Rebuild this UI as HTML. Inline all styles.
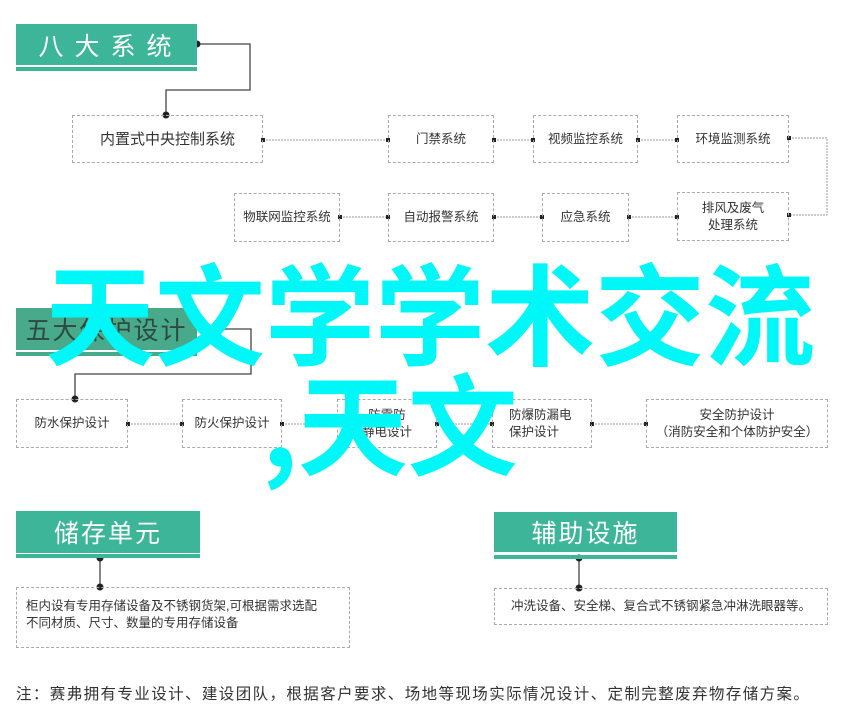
<!DOCTYPE html>
<html><head><meta charset="utf-8">
<style>
*{margin:0;padding:0;box-sizing:border-box}
body{width:846px;height:721px;background:#fff;position:relative;overflow:hidden;font-family:"Liberation Sans","Noto Sans CJK SC",sans-serif;color:#333}
.hd{position:absolute;background:#3db599;color:#fff;font-size:25px;display:flex;align-items:center;justify-content:center;letter-spacing:2px}
.ul{position:absolute;background:#3db599;height:4px}
.bx{position:absolute;border:1px dashed #aaa;display:flex;align-items:center;justify-content:center;text-align:center;font-size:12.5px;line-height:17px;color:#333}
.big{position:absolute;color:#00f7f7;font-size:110px;line-height:1;font-weight:bold;font-family:"Noto Sans CJK SC",sans-serif;white-space:nowrap}
</style></head><body>
<svg width="846" height="721" style="position:absolute;left:0;top:0">
<g stroke="#444" stroke-width="1.3" fill="none">
<polyline points="197,44 250,44 250,90 166,90 166,115"/>
<polyline points="197,329 251,329 251,374 75,374 75,399"/>
<line x1="100" y1="558" x2="100" y2="587"/>
<line x1="579" y1="558" x2="579" y2="588"/>
</g>
<g stroke="#999" stroke-width="1" stroke-dasharray="2,1" fill="none">
<line x1="263" y1="140" x2="388" y2="140"/>
<line x1="494" y1="140" x2="533" y2="140"/>
<line x1="638" y1="140" x2="677" y2="140"/>
<polyline points="789,138 827,138 827,215 789,215"/>
<line x1="340" y1="217" x2="388" y2="217"/>
<line x1="494" y1="217" x2="542" y2="217"/>
<line x1="629" y1="217" x2="677" y2="217"/>
<line x1="128" y1="424" x2="182" y2="424"/>
<line x1="282" y1="424" x2="337" y2="424"/>
<line x1="437" y1="424" x2="492" y2="424"/>
<line x1="592" y1="424" x2="646" y2="424"/>
</g>
<g fill="#222">
<circle cx="197" cy="44" r="3.5"/><circle cx="166" cy="115" r="3.5"/>
<circle cx="75" cy="399" r="3.5"/>
<circle cx="100" cy="558" r="3.5"/><circle cx="100" cy="587" r="3.5"/>
<circle cx="579" cy="558" r="3.5"/><circle cx="579" cy="588" r="3.5"/>
<rect x="261" y="138" width="4" height="4"/><rect x="386" y="138" width="4" height="4"/>
<rect x="492" y="138" width="4" height="4"/><rect x="531" y="138" width="4" height="4"/>
<rect x="636" y="138" width="4" height="4"/><rect x="675" y="138" width="4" height="4"/>
<rect x="787" y="136" width="4" height="4"/><rect x="787" y="213" width="4" height="4"/>
<rect x="338" y="215" width="4" height="4"/><rect x="386" y="215" width="4" height="4"/>
<rect x="492" y="215" width="4" height="4"/><rect x="540" y="215" width="4" height="4"/>
<rect x="627" y="215" width="4" height="4"/><rect x="675" y="215" width="4" height="4"/>
<rect x="126" y="422" width="4" height="4"/><rect x="180" y="422" width="4" height="4"/>
<rect x="280" y="422" width="4" height="4"/><rect x="335" y="422" width="4" height="4"/>
<rect x="435" y="422" width="4" height="4"/><rect x="490" y="422" width="4" height="4"/>
<rect x="590" y="422" width="4" height="4"/><rect x="644" y="422" width="4" height="4"/>
</g>
</svg>

<div class="hd" style="left:16px;top:24px;width:181px;height:41px;letter-spacing:11px;padding-left:8px">八大系统</div>
<div class="ul" style="left:16px;top:67px;width:181px"></div>
<div class="bx" style="left:72px;top:115px;width:191px;height:48px;font-size:15px">内置式中央控制系统</div>
<div class="bx" style="left:388px;top:115px;width:106px;height:48px">门禁系统</div>
<div class="bx" style="left:533px;top:115px;width:105px;height:48px">视频监控系统</div>
<div class="bx" style="left:677px;top:115px;width:112px;height:48px">环境监测系统</div>
<div class="bx" style="left:234px;top:193px;width:106px;height:49px">物联网监控系统</div>
<div class="bx" style="left:388px;top:193px;width:106px;height:49px">自动报警系统</div>
<div class="bx" style="left:542px;top:193px;width:87px;height:49px">应急系统</div>
<div class="bx" style="left:677px;top:192px;width:112px;height:49px">排风及废气<br>处理系统</div>

<div class="hd" style="left:16px;top:308px;width:181px;height:42px;color:#2d4a40;background:#48a98b">五大保护设计</div>
<div class="ul" style="left:16px;top:352px;width:181px;background:#48a98b"></div>
<div class="bx" style="left:16px;top:399px;width:112px;height:49px">防水保护设计</div>
<div class="bx" style="left:182px;top:399px;width:100px;height:49px">防火保护设计</div>
<div class="bx" style="left:337px;top:399px;width:100px;height:49px">防雷防<br>静电设计</div>
<div class="bx" style="left:492px;top:399px;width:100px;height:49px;justify-content:flex-start;text-align:left;padding-left:16px">防爆防漏电<br>保护设计</div>
<div class="bx" style="left:646px;top:399px;width:182px;height:49px">安全防护设计<br>（消防安全和个体防护安全）</div>

<div class="hd" style="left:16px;top:511px;width:184px;height:42px">储存单元</div>
<div class="ul" style="left:16px;top:554px;width:184px"></div>
<div class="bx" style="left:16px;top:587px;width:334px;height:61px;justify-content:flex-start;text-align:left;padding-left:9px;padding-bottom:6px;font-size:12.5px">柜内设有专用存储设备及不锈钢货架,可根据需求选配<br>不同材质、尺寸、数量的专用存储设备</div>
<div class="hd" style="left:494px;top:512px;width:183px;height:40px">辅助设施</div>
<div class="ul" style="left:494px;top:555px;width:183px"></div>
<div class="bx" style="left:494px;top:588px;width:334px;height:37px;font-size:12.5px">冲洗设备、安全梯、复合式不锈钢紧急冲淋洗眼器等。</div>

<div style="position:absolute;left:16px;top:682px;font-size:15.5px;letter-spacing:1.4px;white-space:nowrap;color:#333">注：赛弗拥有专业设计、建设团队，根据客户要求、场地等现场实际情况设计、定制完整废弃物存储方案。</div>

<div class="big" style="left:45px;top:254px">天文学学术交流</div>
<div class="big" style="left:262px;top:364px">,天文</div>
</body></html>
